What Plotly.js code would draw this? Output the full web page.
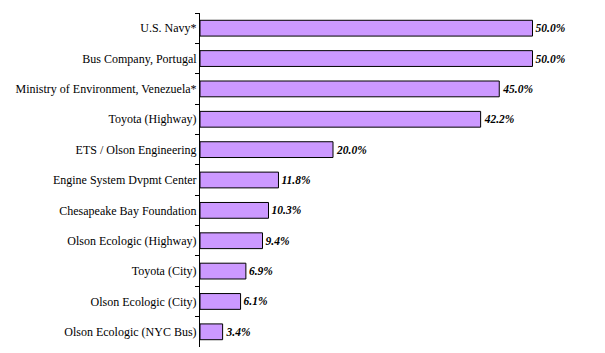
<!DOCTYPE html>
<html><head><meta charset="utf-8">
<script src="https://cdn.plot.ly/plotly-3.0.1.min.js"></script>
<style>body{margin:0;background:#fff}#c{width:605px;height:353px}</style>
</head><body><div id="c"></div>
<script>
const categories = ["U.S. Navy*","Bus Company, Portugal","Ministry of Environment, Venezuela*","Toyota (Highway)","ETS / Olson Engineering","Engine System Dvpmt Center","Chesapeake Bay Foundation","Olson Ecologic (Highway)","Toyota (City)","Olson Ecologic (City)","Olson Ecologic (NYC Bus)"];
const values = [50.0,50.0,45.0,42.2,20.0,11.8,10.3,9.4,6.9,6.1,3.4];
const valueLabels = values.map(v => v.toFixed(1) + "%");

const serif = "Liberation Serif";
Plotly.newPlot("c", [{
  type: "bar", orientation: "h",
  y: categories, x: values,
  text: valueLabels, textposition: "outside", cliponaxis: false,
  textfont: {family: serif, size: 11.5, color: "#000", weight: "bold", style: "italic"},
  marker: {color: "#CC99FF", line: {color: "#000", width: 1}},
  hoverinfo: "none"
}], {
  width: 605, height: 353,
  font: {family: serif, size: 12, color: "#000"},
  margin: {l: 200, r: 6, t: 13, b: 6},
  paper_bgcolor: "#fff", plot_bgcolor: "#fff",
  bargap: 0.48,
  showlegend: false,
  xaxis: {range: [0, 60], visible: false, fixedrange: true},
  yaxis: {autorange: "reversed", showline: true, linecolor: "#000", linewidth: 1,
    ticks: "outside", ticklen: 4, tickcolor: "#000", tickson: "boundaries",
    tickfont: {family: serif, size: 12, color: "#000"},
    showgrid: false, zeroline: false, fixedrange: true}
}, {staticPlot: true});
</script></body></html>
